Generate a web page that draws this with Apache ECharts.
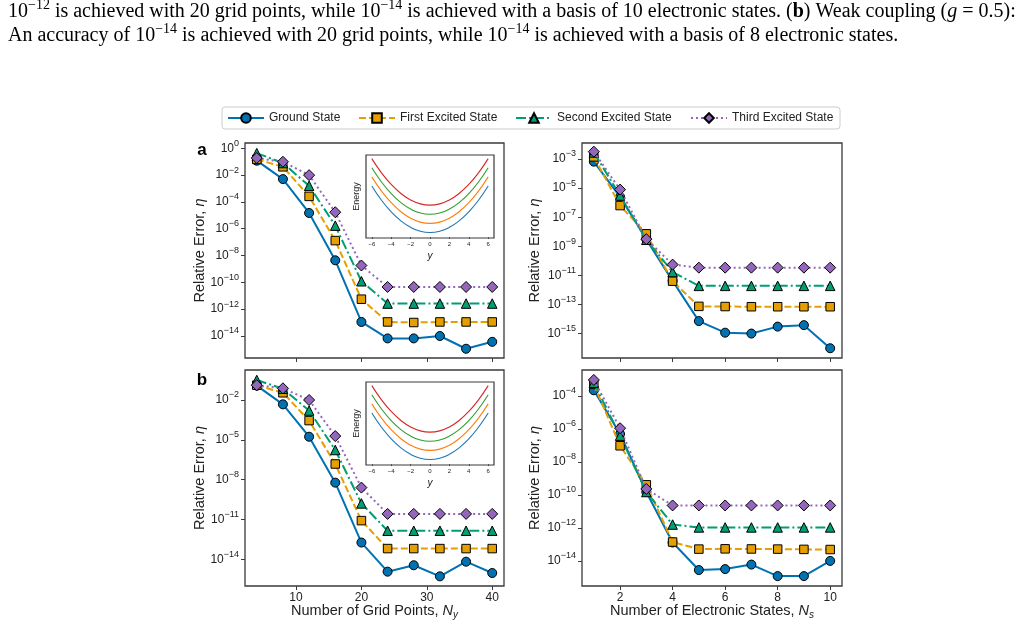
<!DOCTYPE html>
<html>
<head>
<meta charset="utf-8">
<script src="https://cdn.jsdelivr.net/npm/echarts@6.0.0/dist/echarts.min.js"></script>
<style>
  html, body { margin: 0; padding: 0; background: #fff; }
  #chart { width: 1027px; height: 627px; }
</style>
</head>
<body>
<div id="chart"></div>
<script>
// x values
const gridPoints = [4, 8, 12, 16, 20, 24, 28, 32, 36, 40];
const elecStates = [1, 2, 3, 4, 5, 6, 7, 8, 9, 10];
const stateNames = ['Ground State', 'First Excited State', 'Second Excited State', 'Third Excited State'];

// (a) strong coupling: relative error vs number of grid points
const aGridGround = [1.2e-1, 5.1e-3, 1.5e-5, 4.4e-9, 1.1e-13, 6.5e-15, 6.5e-15, 9.8e-15, 1.1e-15, 3.6e-15];
const aGridFirst  = [1.5e-1, 4.2e-2, 2.6e-4, 1.3e-7, 5.5e-12, 1.1e-13, 1.0e-13, 1.1e-13, 1.1e-13, 1.1e-13];
const aGridSecond = [4.4e-1, 8.0e-2, 1.6e-3, 1.7e-6, 1.2e-10, 2.6e-12, 2.6e-12, 2.6e-12, 2.6e-12, 2.6e-12];
const aGridThird  = [1.9e-1, 1.0e-1, 1.0e-2, 1.7e-5, 1.8e-9, 4.5e-11, 4.5e-11, 4.5e-11, 4.5e-11, 4.5e-11];

// (a) strong coupling: relative error vs number of electronic states
const aStatesGround = [6.6e-4, 2.5e-6, 3.0e-9, 4.2e-12, 7.2e-15, 1.15e-15, 1.0e-15, 3.0e-15, 3.8e-15, 9.8e-17];
const aStatesFirst  = [1.4e-3, 6.3e-7, 7.2e-9, 4.0e-12, 7.4e-14, 7.2e-14, 7.0e-14, 7.0e-14, 7.0e-14, 7.0e-14];
const aStatesSecond = [2.8e-3, 3.1e-6, 2.8e-9, 1.7e-11, 1.9e-12, 1.9e-12, 1.9e-12, 1.9e-12, 1.9e-12, 1.9e-12];
const aStatesThird  = [3.2e-3, 7.9e-6, 3.1e-9, 5.5e-11, 3.4e-11, 3.4e-11, 3.4e-11, 3.4e-11, 3.4e-11, 3.4e-11];

// (b) weak coupling: relative error vs number of grid points
const bGridGround = [1.2e-1, 4.7e-3, 1.7e-5, 5.9e-9, 1.8e-13, 1.15e-15, 3.5e-15, 5.1e-16, 6.5e-15, 9.1e-16];
const bGridFirst  = [1.3e-1, 3.5e-2, 2.8e-4, 1.5e-7, 8.1e-12, 6.3e-14, 6.3e-14, 6.3e-14, 6.3e-14, 6.3e-14];
const bGridSecond = [3.2e-1, 7.0e-2, 1.6e-3, 1.7e-6, 1.6e-10, 1.4e-12, 1.4e-12, 1.4e-12, 1.4e-12, 1.4e-12];
const bGridThird  = [1.3e-1, 7.6e-2, 1.0e-2, 1.9e-5, 2.5e-9, 2.6e-11, 2.6e-11, 2.6e-11, 2.6e-11, 2.6e-11];

// (b) weak coupling: relative error vs number of electronic states
const bStatesGround = [2.2e-4, 4.9e-7, 1.5e-10, 1.3e-13, 2.8e-15, 3.2e-15, 6.0e-15, 1.2e-15, 1.2e-15, 1.0e-14];
const bStatesFirst  = [5.0e-4, 9.5e-8, 4.1e-10, 1.4e-13, 5.2e-14, 5.4e-14, 5.3e-14, 5.2e-14, 5.0e-14, 4.9e-14];
const bStatesSecond = [6.3e-4, 3.9e-7, 1.5e-10, 1.6e-12, 1.07e-12, 1.07e-12, 1.07e-12, 1.07e-12, 1.07e-12, 1.07e-12];
const bStatesThird  = [9.3e-4, 1.1e-6, 2.3e-10, 2.3e-11, 2.3e-11, 2.3e-11, 2.3e-11, 2.3e-11, 2.3e-11, 2.3e-11];

// tick labels (decade exponents on the y axes)
const gridTicks = [10, 20, 30, 40];
const statesTicks = [2, 4, 6, 8, 10];
const aGridExp = [0, -2, -4, -6, -8, -10, -12, -14];
const aStatesExp = [-3, -5, -7, -9, -11, -13, -15];
const bGridExp = [-2, -5, -8, -11, -14];
const bStatesExp = [-4, -6, -8, -10, -12, -14];

// inset: potential energy curves
const insetY = [-6, -5, -4, -3, -2, -1, 0, 1, 2, 3, 4, 5, 6];
const insetE0 = [5.6, 4.04, 2.77, 1.78, 1.07, 0.64, 0.5, 0.64, 1.07, 1.78, 2.77, 4.04, 5.6];
const insetE1 = [6.6, 5.04, 3.77, 2.78, 2.07, 1.64, 1.5, 1.64, 2.07, 2.78, 3.77, 5.04, 6.6];
const insetE2 = [7.6, 6.04, 4.77, 3.78, 3.07, 2.64, 2.5, 2.64, 3.07, 3.78, 4.77, 6.04, 7.6];
const insetE3 = [8.6, 7.04, 5.77, 4.78, 4.07, 3.64, 3.5, 3.64, 4.07, 4.78, 5.77, 7.04, 8.6];
const insetTicks = [-6, -4, -2, 0, 2, 4, 6];

const SANS = 'Liberation Sans';
const SERIF = 'Liberation Serif';
const INK = '#222';
const FRAME = '#3a3a3a';

const stateStyle = [
  { color: '#0072B2', symbol: 'circle', size: 9, dash: 'solid' },
  { color: '#E69F00', symbol: 'rect', size: 8.5, dash: [7, 3] },
  { color: '#009E73', symbol: 'triangle', size: 9.5, dash: [10, 3, 2, 3] },
  { color: '#9467BD', symbol: 'diamond', size: 11, dash: [2, 3] }
];
const insetColors = ['#1f77b4', '#ff7f0e', '#2ca02c', '#d62728'];

const panels = [
  { x: gridPoints, ys: [aGridGround, aGridFirst, aGridSecond, aGridThird], box: [245, 143, 259, 215],
    xr: [2.2, 41.8], xt: gridTicks, yr: [-15.65, 0.4], ye: aGridExp, xLabels: false },
  { x: elecStates, ys: [aStatesGround, aStatesFirst, aStatesSecond, aStatesThird], box: [582, 143, 260, 215],
    xr: [0.55, 10.45], xt: statesTicks, yr: [-16.68, -1.9], ye: aStatesExp, xLabels: false },
  { x: gridPoints, ys: [bGridGround, bGridFirst, bGridSecond, bGridThird], box: [245, 370, 259, 216],
    xr: [2.2, 41.8], xt: gridTicks, yr: [-16.02, 0.26], ye: bGridExp, xLabels: true },
  { x: elecStates, ys: [bStatesGround, bStatesFirst, bStatesSecond, bStatesThird], box: [582, 370, 260, 216],
    xr: [0.55, 10.45], xt: statesTicks, yr: [-15.52, -2.43], ye: bStatesExp, xLabels: true }
];
const insets = [[366, 155, 128, 83], [366, 382, 128, 83]];

function powLabel(v) {
  const e = Math.round(Math.log10(v));
  return '{b|10}{s|' + (e < 0 ? '\u2212' + (-e) : e) + '}';
}

const grids = [], xAxes = [], yAxes = [], series = [];
panels.forEach(function (p, i) {
  grids.push({ left: p.box[0], top: p.box[1], width: p.box[2], height: p.box[3], show: true,
    borderColor: FRAME, borderWidth: 1.3, backgroundColor: '#fff' });
  xAxes.push({
    type: 'value', gridIndex: i, min: p.xr[0], max: p.xr[1],
    axisLine: { show: false }, splitLine: { show: false },
    axisTick: { show: true, length: 4, customValues: p.xt, lineStyle: { color: FRAME, width: 1 } },
    axisLabel: { show: p.xLabels, customValues: p.xt, margin: 6, fontFamily: SANS, fontSize: 12, color: INK }
  });
  const yt = p.ye.map(function (e) { return Math.pow(10, e); });
  yAxes.push({
    type: 'log', logBase: 10, gridIndex: i, min: Math.pow(10, p.yr[0]), max: Math.pow(10, p.yr[1]),
    axisLine: { show: false }, splitLine: { show: false }, minorTick: { show: false },
    axisTick: { show: true, length: 4, customValues: yt, lineStyle: { color: FRAME, width: 1 } },
    axisLabel: {
      customValues: yt, margin: 6, formatter: powLabel,
      rich: {
        b: { fontFamily: SANS, fontSize: 12, color: INK },
        s: { fontFamily: SANS, fontSize: 9, color: INK, padding: [0, 0, 10, 0] }
      }
    }
  });
  p.ys.forEach(function (vals, k) {
    const st = stateStyle[k];
    series.push({
      type: 'line', name: stateNames[k], xAxisIndex: i, yAxisIndex: i,
      data: p.x.map(function (x, j) { return [x, vals[j]]; }),
      symbol: st.symbol, symbolSize: st.size, showAllSymbol: true,
      lineStyle: { color: st.color, width: 2, type: st.dash, cap: 'butt' },
      itemStyle: { color: st.color, borderColor: '#000', borderWidth: 1 },
      emphasis: { disabled: true }, z: 2 + k
    });
  });
});

insets.forEach(function (b, m) {
  const gi = panels.length + m;
  grids.push({ left: b[0], top: b[1], width: b[2], height: b[3], show: true,
    borderColor: FRAME, borderWidth: 1.2, backgroundColor: '#fff', z: 5 });
  xAxes.push({
    type: 'value', gridIndex: gi, min: -6.6, max: 6.6, z: 5,
    axisLine: { show: false }, splitLine: { show: false },
    axisTick: { length: 2, customValues: insetTicks, lineStyle: { color: FRAME, width: 0.8 } },
    axisLabel: { customValues: insetTicks, margin: 3, fontFamily: SANS, fontSize: 6, color: INK,
      formatter: function (v) { return v < 0 ? '\u2212' + (-v) : String(v); } },
    name: 'y', nameLocation: 'middle', nameGap: 13,
    nameTextStyle: { fontFamily: SANS, fontSize: 10, fontStyle: 'italic', color: INK }
  });
  yAxes.push({
    type: 'value', gridIndex: gi, min: -0.1, max: 9.0, z: 5,
    axisLine: { show: false }, splitLine: { show: false }, axisTick: { show: false }, axisLabel: { show: false },
    name: 'Energy', nameLocation: 'middle', nameRotate: 90, nameGap: 5,
    nameTextStyle: { fontFamily: SANS, fontSize: 9, color: INK }
  });
  [insetE0, insetE1, insetE2, insetE3].forEach(function (vals, k) {
    series.push({
      type: 'line', xAxisIndex: gi, yAxisIndex: gi, z: 6,
      data: insetY.map(function (y, j) { return [y, vals[j]]; }),
      smooth: true, symbol: 'none', lineStyle: { color: insetColors[k], width: 1.1 },
      emphasis: { disabled: true }
    });
  });
});

const legendX = [227, 358, 515, 690];
const legends = stateNames.map(function (n, i) {
  return { data: [n], left: legendX[i], top: 112, padding: 0, itemWidth: 36, itemHeight: 12,
    textStyle: { fontFamily: SANS, fontSize: 12, color: INK }, selectedMode: false };
});

const capRich = {
  m: { fontFamily: SERIF, fontSize: 20, fill: '#000' },
  sup: { fontFamily: SERIF, fontSize: 14, fill: '#000', padding: [0, 0, 13, 0] },
  bd: { fontFamily: SERIF, fontSize: 20, fontWeight: 'bold', fill: '#000' },
  it: { fontFamily: SERIF, fontSize: 20, fontStyle: 'italic', fill: '#000' }
};
const yTitleRich = {
  r: { fontFamily: SANS, fontSize: 14.5, fill: INK },
  i: { fontFamily: SANS, fontSize: 14.5, fontStyle: 'italic', fill: INK }
};
const xTitleRich = {
  r: { fontFamily: SANS, fontSize: 14.5, fill: INK },
  i: { fontFamily: SANS, fontSize: 14.5, fontStyle: 'italic', fill: INK },
  sub: { fontFamily: SANS, fontSize: 10, fontStyle: 'italic', fill: INK, padding: [8, 0, 0, 0] }
};
function yTitle(x, y) {
  return { type: 'text', x: x, y: y, rotation: Math.PI / 2,
    style: { text: '{r|Relative Error, }{i|\u03b7}', rich: yTitleRich, align: 'center', verticalAlign: 'middle' } };
}

const graphics = [
  { type: 'rect', shape: { x: 222, y: 107, width: 618, height: 22, r: 3 }, style: { fill: '#fff', stroke: '#ccc', lineWidth: 1 }, z: 1 },
  { type: 'text', x: 8, y: 12, style: { text:
      '{m|10}{sup|\u221212}{m| is achieved with 20 grid points, while 10}{sup|\u221214}{m| is achieved with a basis of 10 electronic states. (}{bd|b}{m|) Weak coupling (}{it|g}{m| = 0.5):}',
      rich: capRich, align: 'left', verticalAlign: 'middle' } },
  { type: 'text', x: 8, y: 35.5, style: { text:
      '{m|An accuracy of 10}{sup|\u221214}{m| is achieved with 20 grid points, while 10}{sup|\u221214}{m| is achieved with a basis of 8 electronic states.}',
      rich: capRich, align: 'left', verticalAlign: 'middle' } },
  yTitle(200, 250.5), yTitle(535, 250.5), yTitle(200, 478), yTitle(535, 478),
  { type: 'text', x: 374.5, y: 611, style: { text: '{r|Number of Grid Points, }{i|N}{sub|y}', rich: xTitleRich, align: 'center', verticalAlign: 'middle' } },
  { type: 'text', x: 712, y: 611, style: { text: '{r|Number of Electronic States, }{i|N}{sub|s}', rich: xTitleRich, align: 'center', verticalAlign: 'middle' } },
  { type: 'text', x: 202, y: 150, style: { text: 'a', fontFamily: SANS, fontSize: 17, fontWeight: 'bold', fill: '#000', align: 'center', verticalAlign: 'middle' } },
  { type: 'text', x: 202, y: 380, style: { text: 'b', fontFamily: SANS, fontSize: 17, fontWeight: 'bold', fill: '#000', align: 'center', verticalAlign: 'middle' } }
];

const chart = echarts.init(document.getElementById('chart'));
chart.setOption({
  animation: false,
  backgroundColor: '#fff',
  grid: grids,
  xAxis: xAxes,
  yAxis: yAxes,
  legend: legends,
  graphic: graphics,
  series: series
});
</script>
</body>
</html>
